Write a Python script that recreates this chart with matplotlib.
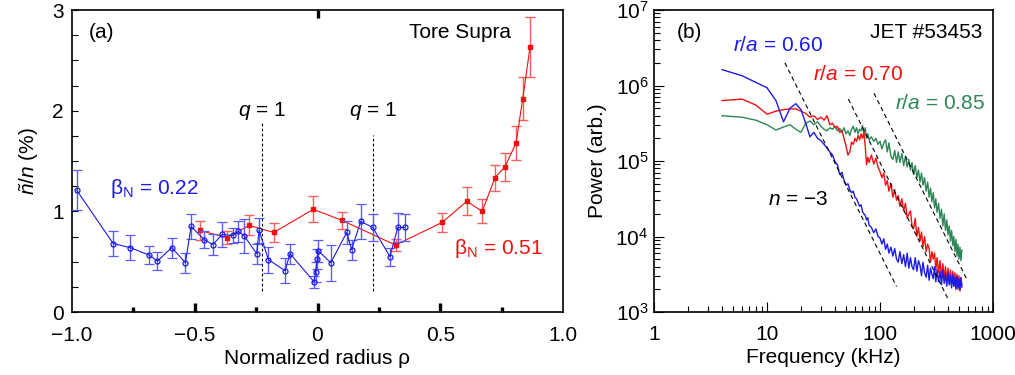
import numpy as np
import matplotlib
matplotlib.use('Agg')
import matplotlib.pyplot as plt
from matplotlib.ticker import FixedLocator, FixedFormatter, NullFormatter

plt.rcParams['font.family'] = ['Liberation Sans', 'DejaVu Sans']
plt.rcParams['mathtext.fontset'] = 'custom'
plt.rcParams['mathtext.rm'] = 'Liberation Sans'
plt.rcParams['mathtext.it'] = 'Liberation Sans:italic'
plt.rcParams['mathtext.bf'] = 'Liberation Sans:bold'
plt.rcParams['font.size'] = 15

# ---------------- Panel (a) data: Tore Supra ----------------
rho_low = [-0.981, -0.832, -0.764, -0.685, -0.652, -0.594, -0.538, -0.515, -0.462, -0.426,
           -0.388, -0.345, -0.322, -0.298, -0.248, -0.238, -0.200, -0.132, -0.112, -0.014,
           -0.008, -0.001, 0.002, 0.054, 0.119, 0.139, 0.176, 0.225, 0.295, 0.327, 0.355]
nt_low = [1.21, 0.68, 0.64, 0.565, 0.505, 0.64, 0.49, 0.85, 0.72, 0.67,
          0.77, 0.76, 0.80, 0.755, 0.58, 0.81, 0.52, 0.41, 0.58, 0.30,
          0.40, 0.53, 0.61, 0.49, 0.79, 0.62, 0.90, 0.84, 0.55, 0.84, 0.84]
err_low = [0.20, 0.124, 0.124, 0.09, 0.09, 0.10, 0.10, 0.124, 0.085, 0.10,
           0.128, 0.07, 0.10, 0.17, 0.10, 0.124, 0.128, 0.126, 0.10, 0.06,
           0.10, 0.10, 0.11, 0.18, 0.11, 0.10, 0.17, 0.13, 0.09, 0.145, 0.13]

rho_high = [-0.479, -0.370, -0.278, -0.178, -0.017, 0.100, 0.318, 0.508, 0.608, 0.671,
            0.723, 0.763, 0.809, 0.836, 0.866]
nt_high = [0.81, 0.74, 0.86, 0.79, 1.02, 0.91, 0.665, 0.89, 1.10, 1.00,
           1.335, 1.44, 1.68, 2.12, 2.635]
err_high = [0.09, 0.06, 0.10, 0.095, 0.128, 0.087, 0.06, 0.096, 0.14, 0.12,
            0.13, 0.14, 0.166, 0.215, 0.30]

q1_rho = [-0.227, 0.228]
q1_top = [1.89, 1.76]
q1_bottom = 0.21

# ---------------- Panel (b) data: JET #53453 spectra ----------------
freq = [4, 6, 8, 10, 12, 14, 16, 18, 20, 22, 24, 26, 28, 30, 32, 34, 36, 38, 40, 42,
        44, 46, 48, 50, 52, 54, 56, 58, 60, 62, 64, 66, 68, 70, 72, 74, 76, 78, 80, 84,
        88, 92, 96, 100, 104, 108, 112, 116, 120, 125, 130, 135, 140, 145, 150, 156, 162, 168, 174, 180,
        186, 192, 198, 205, 212, 219, 226, 233, 240, 248, 256, 264, 272, 280, 288, 296, 304, 312, 320, 330,
        340, 350, 360, 370, 380, 390, 400, 410, 420, 430, 440, 450, 460, 470, 480, 490, 500, 510, 520, 530]

logP_060 = [6.21, 6.13, 6.04, 5.97, 5.80, 5.52, 5.70, 5.76, 5.68, 5.50, 5.32, 5.38, 5.30, 5.27, 5.22, 5.17, 5.12, 5.08, 4.99, 4.95,
            4.82, 4.85, 4.75, 4.68, 4.70, 4.62, 4.58, 4.60, 4.52, 4.50, 4.45, 4.40, 4.42, 4.33, 4.30, 4.28, 4.22, 4.25, 4.15, 4.12,
            4.05, 4.10, 4.00,
            3.98, 3.90, 3.97, 3.83, 3.90, 3.78, 3.86, 3.74, 3.84, 3.70, 3.66, 3.80, 3.64, 3.76, 3.60, 3.78, 3.58,
            3.72, 3.60, 3.56, 3.72, 3.54, 3.68, 3.62, 3.48, 3.66, 3.52, 3.46, 3.62, 3.42, 3.58, 3.50, 3.44, 3.60, 3.40, 3.56, 3.40,
            3.54, 3.36, 3.55, 3.38, 3.50, 3.34, 3.52, 3.36, 3.48, 3.32, 3.50, 3.34, 3.46, 3.30, 3.47, 3.32, 3.44, 3.29, 3.45, 3.33]

logP_070 = [5.80, 5.82, 5.74, 5.62, 5.66, 5.68, 5.69, 5.69, 5.66, 5.63, 5.58, 5.60, 5.55, 5.58, 5.54, 5.60, 5.48, 5.50, 5.44, 5.46,
            5.38, 5.40, 5.30, 5.20, 5.08, 5.12, 5.25, 5.22, 5.30, 5.26, 5.34, 5.28, 5.36, 5.30, 5.38, 5.20, 4.95, 5.05, 4.98, 5.08,
            4.96, 5.04, 4.92,
            4.86, 4.78, 4.84, 4.68, 4.74, 4.60, 4.70, 4.52, 4.62, 4.48, 4.54, 4.40, 4.50, 4.34, 4.44, 4.24, 4.30,
            4.34, 4.14, 4.10, 4.24, 4.00, 4.12, 3.94, 4.06, 3.86, 4.00, 3.80, 3.90, 3.84, 3.66, 3.80, 3.70, 3.78, 3.56, 3.72, 3.52,
            3.68, 3.46, 3.64, 3.44, 3.60, 3.40, 3.58, 3.38, 3.56, 3.36, 3.54, 3.34, 3.52, 3.32, 3.50, 3.30, 3.48, 3.28, 3.46, 3.36]

logP_085 = [5.60, 5.58, 5.54, 5.48, 5.41, 5.45, 5.48, 5.42, 5.38, 5.50, 5.53, 5.48, 5.52, 5.46, 5.42, 5.40, 5.44, 5.42, 5.46, 5.40,
            5.43, 5.38, 5.44, 5.36, 5.40, 5.34, 5.42, 5.46, 5.38, 5.44, 5.36, 5.42, 5.40, 5.47, 5.35, 5.44, 5.30, 5.36, 5.28, 5.32,
            5.26, 5.30, 5.22,
            5.26, 5.16, 5.24, 5.28, 5.12, 5.24, 5.06, 5.02, 5.14, 4.98, 5.12, 4.98, 5.10, 4.94, 5.06, 4.92, 5.02,
            4.88, 4.98, 4.82, 4.94, 4.78, 4.88, 4.72, 4.84, 4.68, 4.78, 4.60, 4.72, 4.52, 4.64, 4.46, 4.58, 4.38, 4.50, 4.32,
            4.44, 4.24, 4.36, 4.14, 4.30, 4.08, 4.22, 4.02, 4.14, 3.94, 4.08, 3.88, 4.00, 3.80, 3.96, 3.74, 3.90, 3.70, 3.86, 3.68, 3.82]

# n = -3 power-law guide lines: (f_start, f_end, P at f_start)
slope_n = -3
guide_f_start = [14.4, 52.5, 88.5]
guide_f_end = [140.0, 402.0, 585.0]
guide_P_start = [2.0e6, 6.6e5, 7.9e5]

BLUE = '#1c1ce6'
BLUE_E = '#5c5cf5'
RED = '#f01010'
RED_E = '#f86060'
GREEN = '#2e8556'

fig = plt.figure(figsize=(10.15, 3.75), dpi=100)
W, H = 1015.0, 375.0
axa = fig.add_axes([72 / W, 63 / H, 491 / W, 302 / H])
axb = fig.add_axes([654 / W, 63 / H, 339 / W, 302 / H])

# ---------------- Panel (a) ----------------
axa.errorbar(rho_high, nt_high, yerr=err_high, color=RED, ecolor=RED_E, marker='s',
             mfc=RED, mec=RED, ms=3.2, lw=0.8, elinewidth=1.0, capsize=3.5, capthick=1.0, zorder=3)
axa.errorbar(rho_low, nt_low, yerr=err_low, color=BLUE, ecolor=BLUE_E, marker='o',
             mfc='none', mec=BLUE, ms=3.6, mew=0.9, lw=0.8, elinewidth=1.0, capsize=3.5, capthick=1.0, zorder=4)
for xr, yt in zip(q1_rho, q1_top):
    axa.plot([xr, xr], [q1_bottom, yt], color='black', lw=0.8, ls=(0, (2.5, 2)), zorder=2)
    axa.text(xr, 2.0, r'$q$ = 1', ha='center', va='center', fontsize=15)

axa.set_xlim(-1, 1)
axa.set_ylim(0, 3)
axa.set_xticks([-1, -0.5, 0, 0.5, 1])
axa.set_xticklabels(['\u22121.0', '\u22120.5', '0', '0.5', '1.0'])
axa.tick_params(axis='x', which='major', length=0, pad=10)
axa.set_yticks([0, 1, 2, 3])
axa.yaxis.set_minor_locator(FixedLocator(list(np.arange(0, 3.01, 0.25))))
axa.tick_params(axis='y', which='both', direction='in', length=4, width=0.8, left=True, right=False, pad=6)
for s in axa.spines.values():
    s.set_linewidth(1.2)

# thick tick marks on bottom and top (as in reference)
secb = axa.secondary_xaxis('bottom')
secb.set_xticks([-0.5, 0, 0.5])
secb.set_xticks([-0.75, -0.25, 0.25, 0.75], minor=True)
secb.xaxis.set_major_formatter(NullFormatter())
secb.xaxis.set_minor_formatter(NullFormatter())
secb.tick_params(axis='x', which='major', direction='in', length=6.5, width=2.4)
secb.tick_params(axis='x', which='minor', direction='in', length=3.5, width=2.4)
secb.spines['bottom'].set_visible(False)
sect = axa.secondary_xaxis('top')
sect.set_xticks([0])
sect.xaxis.set_major_formatter(NullFormatter())
sect.tick_params(axis='x', which='major', direction='in', length=6, width=2.4)
sect.spines['top'].set_visible(False)

axa.set_xlabel('Normalized radius \u03c1', labelpad=3)
axa.set_ylabel(r'$\tilde{n}/n$ (%)', labelpad=8)

axa.text(0.035, 0.924, '(a)', transform=axa.transAxes, ha='left', va='center')
axa.text(0.894, 0.924, 'Tore Supra', transform=axa.transAxes, ha='right', va='center')
axa.text(-0.845, 1.23, r'$\mathrm{\beta}_\mathrm{N}$ = 0.22', color=BLUE, ha='left', va='center')
axa.text(0.558, 0.63, r'$\mathrm{\beta}_\mathrm{N}$ = 0.51', color=RED, ha='left', va='center')

# ---------------- Panel (b) ----------------
fr = np.array(freq, dtype=float)
axb.plot(fr, 10 ** np.array(logP_085), color=GREEN, lw=1.0, zorder=2)
axb.plot(fr, 10 ** np.array(logP_070), color=RED, lw=1.0, zorder=3)
axb.plot(fr, 10 ** np.array(logP_060), color=BLUE, lw=1.0, zorder=4)
for f0, f1, p0 in zip(guide_f_start, guide_f_end, guide_P_start):
    fg = np.array([f0, f1])
    axb.plot(fg, p0 * (fg / f0) ** slope_n, color='black', lw=0.8, ls=(0, (4, 3)), zorder=5)

axb.set_xscale('log')
axb.set_yscale('log')
axb.set_xlim(1, 1000)
axb.set_ylim(1e3, 1e7)
axb.xaxis.set_major_locator(FixedLocator([1, 10, 100, 1000]))
axb.xaxis.set_major_formatter(FixedFormatter(['1', '10', '100', '1000']))
axb.tick_params(which='major', direction='in', length=7, width=0.8, top=False, right=False)
axb.tick_params(which='minor', direction='in', length=4, width=0.8, top=False, right=False)
axb.tick_params(axis='x', which='major', pad=9)
axb.tick_params(axis='y', which='major', pad=4)
for s in axb.spines.values():
    s.set_linewidth(1.2)
axb.set_xlabel('Frequency (kHz)', labelpad=3)
axb.set_ylabel('Power (arb.)', labelpad=6)

axb.text(0.068, 0.927, '(b)', transform=axb.transAxes, ha='left', va='center')
axb.text(0.97, 0.927, 'JET #53453', transform=axb.transAxes, ha='right', va='center')
axb.text(0.233, 0.881, r'$r/a$ = 0.60', color=BLUE, transform=axb.transAxes, ha='left', va='center')
axb.text(0.469, 0.788, r'$r/a$ = 0.70', color=RED, transform=axb.transAxes, ha='left', va='center')
axb.text(0.711, 0.689, r'$r/a$ = 0.85', color=GREEN, transform=axb.transAxes, ha='left', va='center')
axb.text(0.336, 0.371, '$n$ = \u22123', color='black', transform=axb.transAxes,
         ha='left', va='center')

fig.savefig('out.png', dpi=100)
